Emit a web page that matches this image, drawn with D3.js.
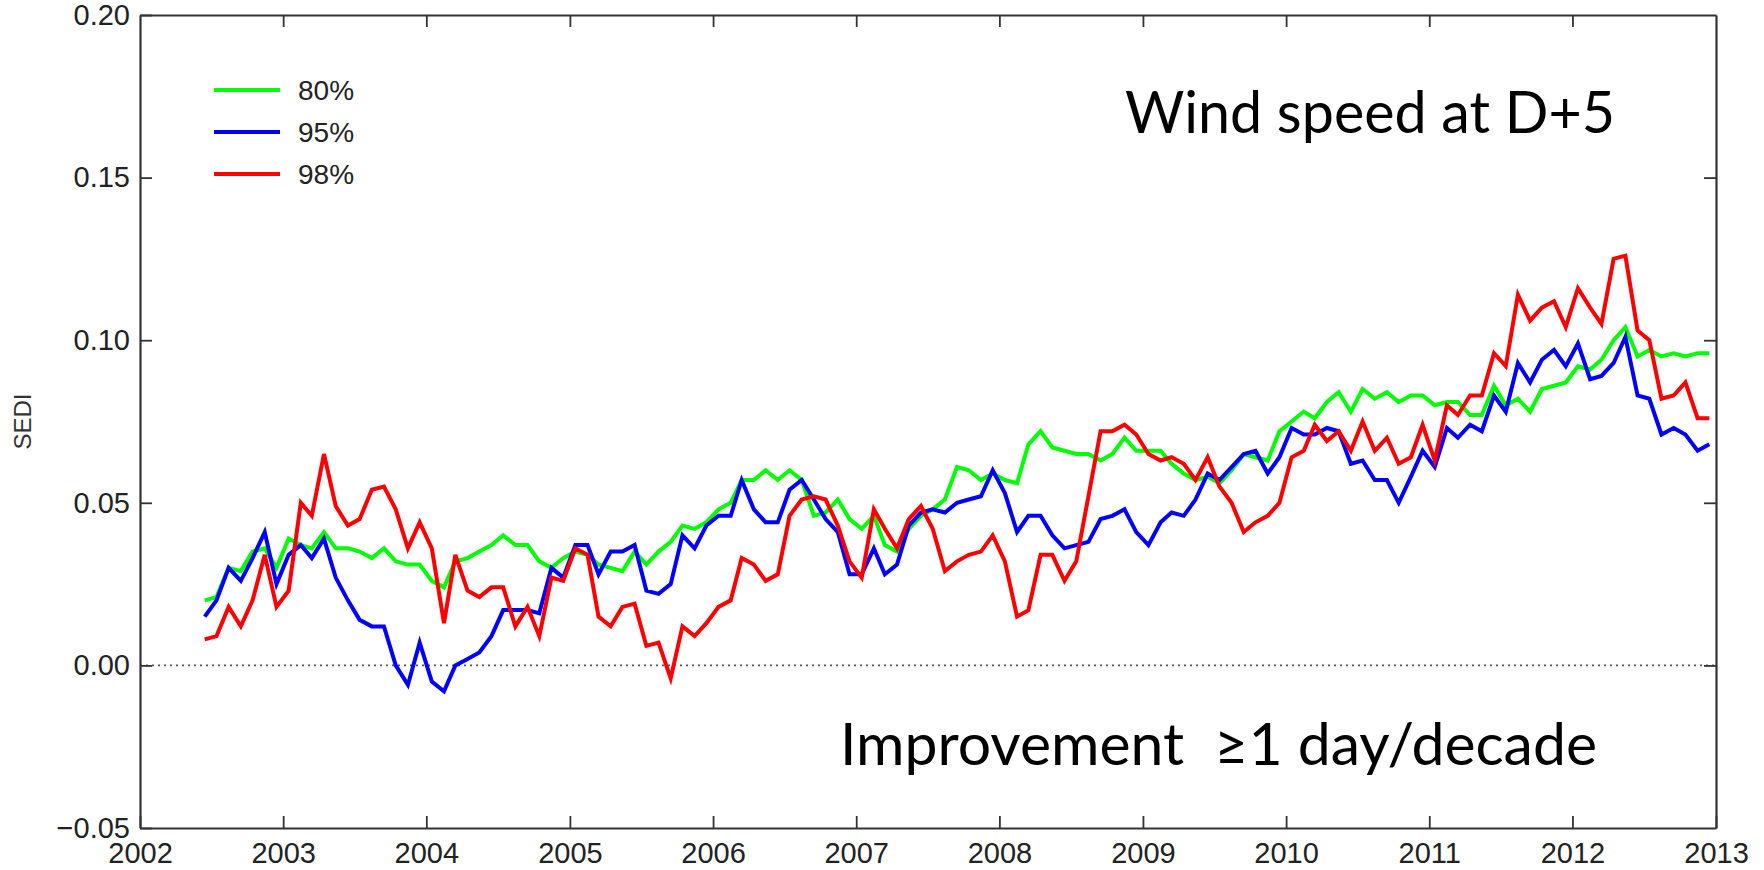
<!DOCTYPE html>
<html>
<head>
<meta charset="utf-8">
<script src="https://cdn.jsdelivr.net/npm/d3@7"></script>
<style>
  body { margin: 0; background: #fff; }
  svg { display: block; }
</style>
</head>
<body>
<svg></svg>
<script>
const width = 1764
const height = 870

// monthly values, Jun 2002 .. Dec 2012
const months = d3.timeMonth.range(new Date(2002, 5, 1), new Date(2013, 0, 1))
  .map(d => new Date(d.getFullYear(), d.getMonth(), 15))

const sedi80 = [
  0.020, 0.021, 0.030, 0.029, 0.035, 0.036, 0.030, 0.039, 0.037, 0.036, 0.041, 0.036,
  0.036, 0.035, 0.033, 0.036, 0.032, 0.031, 0.031, 0.026, 0.024, 0.032, 0.033, 0.035,
  0.037, 0.040, 0.037, 0.037, 0.032, 0.030, 0.033, 0.035, 0.034, 0.031, 0.030, 0.029,
  0.035, 0.031, 0.035, 0.038, 0.043, 0.042, 0.044, 0.048, 0.050, 0.057, 0.057, 0.060,
  0.057, 0.060, 0.057, 0.046, 0.047, 0.051, 0.045, 0.042, 0.046, 0.037, 0.035, 0.042,
  0.046, 0.048, 0.051, 0.061, 0.060, 0.057, 0.059, 0.057, 0.056, 0.068, 0.072, 0.067,
  0.066, 0.065, 0.065, 0.063, 0.065, 0.070, 0.066, 0.066, 0.066, 0.062, 0.059, 0.057,
  0.058, 0.056, 0.060, 0.065, 0.064, 0.063, 0.072, 0.075, 0.078, 0.076, 0.081, 0.084,
  0.078, 0.085, 0.082, 0.084, 0.081, 0.083, 0.083, 0.080, 0.081, 0.081, 0.077, 0.077,
  0.086, 0.080, 0.082, 0.078, 0.085, 0.086, 0.087, 0.092, 0.091, 0.094, 0.100, 0.104,
  0.095, 0.097, 0.095, 0.096, 0.095, 0.096, 0.096
]
const sedi95 = [
  0.015, 0.020, 0.030, 0.026, 0.033, 0.041, 0.025, 0.034, 0.037, 0.033, 0.039, 0.027,
  0.020, 0.014, 0.012, 0.012, 0.000, -0.006, 0.007, -0.005, -0.008, 0.000, 0.002, 0.004,
  0.009, 0.017, 0.017, 0.017, 0.016, 0.030, 0.027, 0.037, 0.037, 0.028, 0.035, 0.035,
  0.037, 0.023, 0.022, 0.025, 0.040, 0.036, 0.043, 0.046, 0.046, 0.057, 0.048, 0.044,
  0.044, 0.054, 0.057, 0.051, 0.045, 0.041, 0.028, 0.028, 0.036, 0.028, 0.031, 0.043,
  0.047, 0.048, 0.047, 0.050, 0.051, 0.052, 0.060, 0.053, 0.041, 0.046, 0.046, 0.040,
  0.036, 0.037, 0.038, 0.045, 0.046, 0.048, 0.041, 0.037, 0.044, 0.047, 0.046, 0.051,
  0.059, 0.057, 0.061, 0.065, 0.066, 0.059, 0.064, 0.073, 0.071, 0.071, 0.073, 0.072,
  0.062, 0.063, 0.057, 0.057, 0.050, 0.058, 0.066, 0.061, 0.073, 0.070, 0.074, 0.072,
  0.083, 0.078, 0.093, 0.087, 0.094, 0.097, 0.092, 0.099, 0.088, 0.089, 0.093, 0.101,
  0.083, 0.082, 0.071, 0.073, 0.071, 0.066, 0.068
]
const sedi98 = [
  0.008, 0.009, 0.018, 0.012, 0.020, 0.034, 0.018, 0.023, 0.050, 0.046, 0.065, 0.049,
  0.043, 0.045, 0.054, 0.055, 0.048, 0.036, 0.044, 0.036, 0.013, 0.034, 0.023, 0.021,
  0.024, 0.024, 0.012, 0.018, 0.009, 0.027, 0.026, 0.036, 0.034, 0.015, 0.012, 0.018,
  0.019, 0.006, 0.007, -0.004, 0.012, 0.009, 0.013, 0.018, 0.020, 0.033, 0.031, 0.026,
  0.028, 0.046, 0.051, 0.052, 0.051, 0.043, 0.032, 0.027, 0.048, 0.042, 0.036, 0.045,
  0.049, 0.042, 0.029, 0.032, 0.034, 0.035, 0.040, 0.032, 0.015, 0.017, 0.034, 0.034,
  0.026, 0.032, 0.052, 0.072, 0.072, 0.074, 0.071, 0.065, 0.063, 0.064, 0.062, 0.057,
  0.064, 0.055, 0.050, 0.041, 0.044, 0.046, 0.050, 0.064, 0.066, 0.074, 0.069, 0.072,
  0.066, 0.075, 0.066, 0.070, 0.062, 0.064, 0.074, 0.063, 0.080, 0.077, 0.083, 0.083,
  0.096, 0.092, 0.114, 0.106, 0.110, 0.112, 0.104, 0.116, 0.110, 0.105, 0.125, 0.126,
  0.103, 0.100, 0.082, 0.083, 0.087, 0.076, 0.076
]

const seriesNames = ["80%", "95%", "98%"]
const seriesColors = ["#00ff00", "#0000ff", "#ff0000"]
const yTicks = [-0.05, 0.00, 0.05, 0.10, 0.15, 0.20]
const xYears = d3.range(2002, 2014)

const margin = { top: 15, right: 48, bottom: 42, left: 140 }

const svg = d3.select("svg")
  .attr("width", width)
  .attr("height", height)
  .attr("viewBox", [0, 0, width, height])

const x = d3.scaleTime()
  .domain([new Date(2002, 0, 1), new Date(2013, 0, 1)])
  .range([margin.left, width - margin.right])

const y = d3.scaleLinear()
  .domain([-0.05, 0.20])
  .range([height - margin.bottom, margin.top])

const tickFont = "'Liberation Sans', Arial, sans-serif"
const fmtY = d => d3.format(".2f")(d).replace("-", "\u22120")

// zero reference line
svg.append("line")
  .attr("x1", x.range()[0])
  .attr("x2", x.range()[1])
  .attr("y1", y(0))
  .attr("y2", y(0))
  .attr("stroke", "#555")
  .attr("stroke-width", 1.8)
  .attr("stroke-dasharray", "2,4")

// series
const line = d3.line()
  .x((d, i) => x(months[i]))
  .y(d => y(d))

const allSeries = [sedi80, sedi95, sedi98]
svg.append("g")
  .selectAll("path")
  .data(allSeries)
  .join("path")
  .attr("fill", "none")
  .attr("stroke", (d, i) => seriesColors[i])
  .attr("stroke-width", 4)
  .attr("stroke-linejoin", "miter")
  .attr("d", line)

// axes, ticks pointing inward on all four sides
const yearTicks = xYears.map(yr => new Date(yr, 0, 1))

function styleAxis(g) {
  g.select(".domain").attr("stroke", "#333").attr("stroke-width", 2.2)
  g.selectAll(".tick line").attr("stroke", "#333").attr("stroke-width", 1.8)
  g.selectAll(".tick text")
    .attr("fill", "#222")
    .style("font-family", tickFont)
    .style("font-size", "29px")
}

svg.append("g")
  .attr("transform", `translate(0,${y(-0.05)})`)
  .call(d3.axisBottom(x).tickValues(yearTicks).tickFormat(d3.timeFormat("%Y"))
    .tickSizeInner(-12).tickSizeOuter(0).tickPadding(14))
  .call(styleAxis)

svg.append("g")
  .attr("transform", `translate(0,${y(0.20)})`)
  .call(d3.axisTop(x).tickValues(yearTicks.slice(1, -1)).tickFormat("")
    .tickSizeInner(-12).tickSizeOuter(0))
  .call(styleAxis)

svg.append("g")
  .attr("transform", `translate(${x.range()[0]},0)`)
  .call(d3.axisLeft(y).tickValues(yTicks).tickFormat(fmtY)
    .tickSizeInner(-12).tickSizeOuter(0).tickPadding(10))
  .call(styleAxis)

svg.append("g")
  .attr("transform", `translate(${x.range()[1]},0)`)
  .call(d3.axisRight(y).tickValues(yTicks.slice(1, -1)).tickFormat("")
    .tickSizeInner(-12).tickSizeOuter(0))
  .call(styleAxis)

// y label
svg.append("text")
  .attr("transform", `translate(31,${(y(0.20) + y(-0.05)) / 2}) rotate(-90)`)
  .attr("text-anchor", "middle")
  .style("font-family", tickFont)
  .style("font-size", "24px")
  .attr("fill", "#333")
  .text("SEDI")

// legend
const legend = svg.append("g")
legend.selectAll("line")
  .data(seriesNames)
  .join("line")
  .attr("x1", 214).attr("x2", 280)
  .attr("y1", (d, i) => 90 + i * 42)
  .attr("y2", (d, i) => 90 + i * 42)
  .attr("stroke", (d, i) => seriesColors[i])
  .attr("stroke-width", 4)
legend.selectAll("text")
  .data(seriesNames)
  .join("text")
  .attr("x", 298)
  .attr("y", (d, i) => 90 + i * 42)
  .attr("dy", "0.35em")
  .style("font-family", tickFont)
  .style("font-size", "28px")
  .attr("fill", "#222")
  .text(d => d)

// annotations
svg.append("text")
  .attr("x", 1125).attr("y", 133)
  .attr("textLength", 490)
  .attr("lengthAdjust", "spacingAndGlyphs")
  .style("font-family", "Lato, 'Open Sans', sans-serif")
  .style("font-size", "58px")
  .attr("fill", "#000")
  .text("Wind speed at D+5")

svg.append("text")
  .attr("x", 840).attr("y", 765)
  .attr("textLength", 757)
  .attr("lengthAdjust", "spacingAndGlyphs")
  .style("font-family", "Lato, 'Open Sans', sans-serif")
  .style("font-size", "58px")
  .style("white-space", "pre")
  .attr("fill", "#000")
  .text("Improvement  \u22651 day/decade")
</script>
</body>
</html>
